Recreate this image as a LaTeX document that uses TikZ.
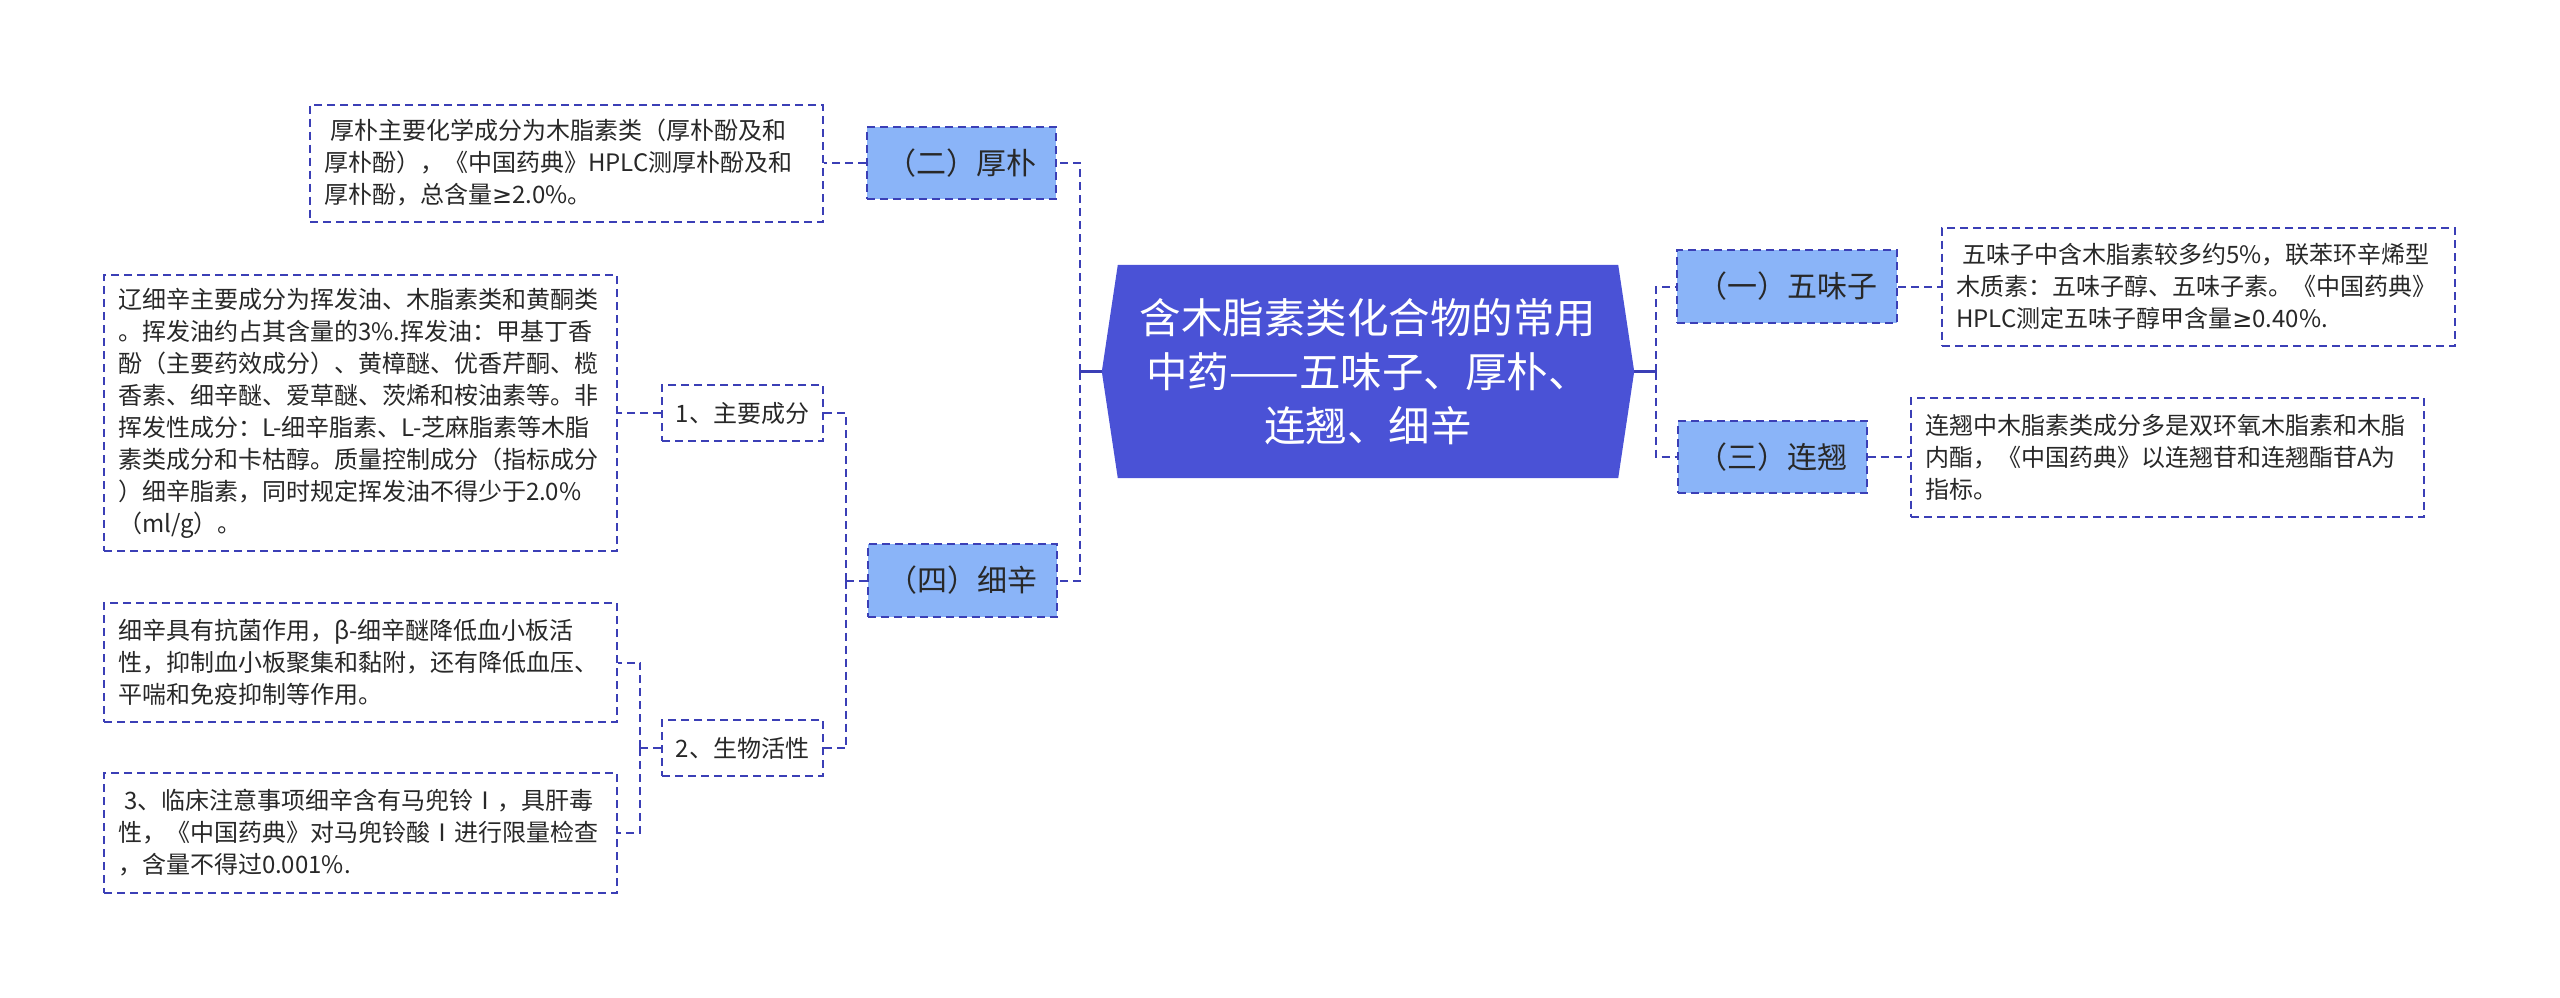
\documentclass[tikz,border=0pt]{standalone}
\usepackage{fontspec}
\setmainfont{Noto Sans CJK SC}
\newfontfamily\symf{DejaVu Sans}
\usetikzlibrary{backgrounds}
\definecolor{linec}{RGB}{59,63,182}
\definecolor{rootc}{RGB}{74,82,214}
\definecolor{lvc}{RGB}{138,180,248}
\definecolor{txtc}{RGB}{40,40,40}
\newcommand{\gee}{{\symf ≥}}
\tikzset{
  box/.style={rectangle, draw=linec, line width=2pt, dash pattern=on 8pt off 5pt, text=txtc, inner sep=0pt},
  lvone/.style={box, fill=lvc, font=\fontsize{30}{36}\selectfont},
  lvtwo/.style={box, fill=white, font=\fontsize{24}{32}\selectfont},
  detail/.style={box, fill=white, font=\fontsize{24}{32}\selectfont, align=left, inner xsep=14pt, text width=485pt, minimum width=513pt},
  conn/.style={draw=linec, line width=2pt, dash pattern=on 8pt off 5pt},
  stub/.style={draw=linec, line width=3pt},
  rootnode/.style={rectangle, inner sep=0pt, text=white, align=center, font=\fontsize{41.5}{54}\selectfont},
}
\begin{document}
\begin{tikzpicture}[x=1pt,y=-1pt]
\useasboundingbox (0,0) rectangle (2560,997);
% root
\node[rootnode, minimum width=532pt, minimum height=213pt] (root) at (1368,371.5)
  {含木脂素类化合物的常用\\中药——五味子、厚朴、\\连翘、细辛};
% level 1
\node[lvone, minimum width=189pt, minimum height=72pt] (n2) at (961.5,163) {（二）厚朴};
\node[lvone, minimum width=189pt, minimum height=73pt] (n4) at (962,580.5) {（四）细辛};
\node[lvone, minimum width=220pt, minimum height=73pt] (n1) at (1787,286.5) {（一）五味子};
\node[lvone, minimum width=189pt, minimum height=72pt] (n3) at (1772,457) {（三）连翘};
% level 2
\node[lvtwo, minimum width=161pt, minimum height=56pt] (s1) at (742.5,413) {1、主要成分};
\node[lvtwo, minimum width=161pt, minimum height=56pt] (s2) at (742.5,748) {2、生物活性};
% details
\node[detail, minimum height=117pt] (d2) at (566.5,163)
  {\hspace*{6pt}厚朴主要化学成分为木脂素类（厚朴酚及和\\厚朴酚），《中国药典》HPLC测厚朴酚及和\\厚朴酚，总含量\gee 2.0\%。};
\node[detail, minimum height=276pt] (d4) at (360.5,413)
  {辽细辛主要成分为挥发油、木脂素类和黄酮类\\。挥发油约占其含量的3\%.挥发油：甲基丁香\\酚（主要药效成分）、黄樟醚、优香芹酮、榄\\香素、细辛醚、爱草醚、茨烯和桉油素等。非\\挥发性成分：L-细辛脂素、L-芝麻脂素等木脂\\素类成分和卡枯醇。质量控制成分（指标成分\\）细辛脂素，同时规定挥发油不得少于2.0\%\\（ml/g）。};
\node[detail, minimum height=119pt] (d5) at (360.5,662.5)
  {细辛具有抗菌作用，β-细辛醚降低血小板活\\性，抑制血小板聚集和黏附，还有降低血压、\\平喘和免疫抑制等作用。};
\node[detail, minimum height=120pt] (d6) at (360.5,833)
  {\hspace*{6pt}3、临床注意事项细辛含有马兜铃Ⅰ，具肝毒\\性，《中国药典》对马兜铃酸Ⅰ进行限量检查\\，含量不得过0.001\%.};
\node[detail, minimum height=118pt] (d1) at (2198.5,286.5)
  {\hspace*{6pt}五味子中含木脂素较多约5\%，联苯环辛烯型\\木质素：五味子醇、五味子素。《中国药典》\\HPLC测定五味子醇甲含量\gee 0.40\%.};
\node[detail, minimum height=119pt] (d3) at (2167.5,457)
  {连翘中木脂素类成分多是双环氧木脂素和木脂\\内酯，《中国药典》以连翘苷和连翘酯苷A为\\指标。};
% bus points
\coordinate (busL) at (1080,371.5);
\coordinate (busR) at (1656,371.5);
\coordinate (busM) at (846,580.5);
\coordinate (busN) at (640,748);
\begin{scope}[on background layer]
\fill[rootc] (root.west) -- ([xshift=16pt]root.north west) -- ([xshift=-16pt]root.north east)
  -- (root.east) -- ([xshift=-16pt]root.south east) -- ([xshift=16pt]root.south west) -- cycle;
\draw[stub] (root.west) -- (busL);
\draw[stub] (root.east) -- (busR);
\draw[conn] (busL) |- (n2.east);
\draw[conn] (busL) |- (n4.east);
\draw[conn] (busR) |- (n1.west);
\draw[conn] (busR) |- (n3.west);
\draw[conn] (n2.west) -- (d2.east);
\draw[conn] (n1.east) -- (d1.west);
\draw[conn] (n3.east) -- (d3.west);
\draw[conn] (n4.west) -- (busM);
\draw[conn] (busM) |- (s1.east);
\draw[conn] (busM) |- (s2.east);
\draw[conn] (s1.west) -- (d4.east);
\draw[conn] (s2.west) -- (busN);
\draw[conn] (busN) |- (d5.east);
\draw[conn] (busN) |- (d6.east);
\end{scope}
\end{tikzpicture}
\end{document}
